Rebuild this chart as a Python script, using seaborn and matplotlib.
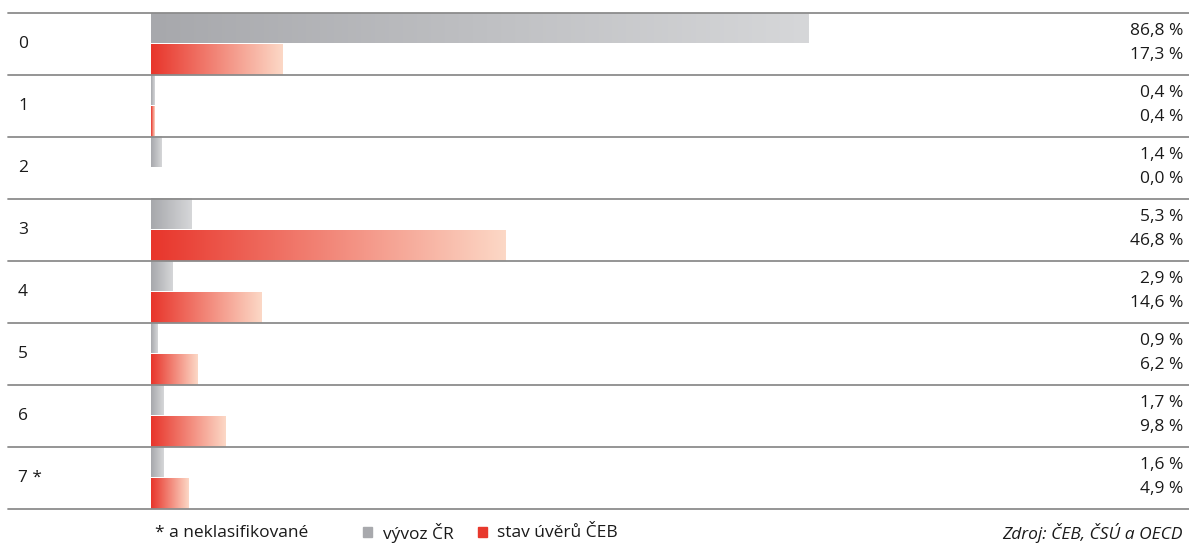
import numpy as np
import pandas as pd
import matplotlib
matplotlib.use("Agg")
import matplotlib.pyplot as plt
import seaborn as sns
from matplotlib.colors import LinearSegmentedColormap
from matplotlib.patches import Rectangle

categories = ["0", "1", "2", "3", "4", "5", "6", "7 *"]
vyvoz = [86.8, 0.4, 1.4, 5.3, 2.9, 0.9, 1.7, 1.6]
uvery = [17.3, 0.4, 0.0, 46.8, 14.6, 6.2, 9.8, 4.9]
series_names = ["vývoz ČR", "stav úvěrů ČEB"]

sns.set_theme(style="white")
plt.rcParams['font.family'] = ['Open Sans', 'DejaVu Sans']

df = pd.DataFrame({
    "cat": categories * 2,
    "val": vyvoz + uvery,
    "ser": [series_names[0]] * len(categories) + [series_names[1]] * len(categories),
})

W, H = 1189, 543
fig = plt.figure(figsize=(W / 100, H / 100), dpi=100)
x0, x1 = 151, 1189
ytop, ybot = 13, 509
ax = fig.add_axes([x0 / W, (H - ybot) / H, (x1 - x0) / W, (ybot - ytop) / H])

pal = {series_names[0]: "#a8a9ad", series_names[1]: "#e8392d"}
sns.barplot(data=df, y="cat", x="val", hue="ser", order=categories,
            hue_order=series_names, palette=pal, width=1.0, dodge=True,
            orient="h", ax=ax, legend=False, saturation=1, linewidth=0)

px_per_unit = 658 / 86.8
ax.set_xlim(0, (x1 - x0) / px_per_unit)
ax.set_ylim(len(categories) - 0.5, -0.5)

cmaps = {
    series_names[0]: LinearSegmentedColormap.from_list("g", ["#a7a8ac", "#d6d7d9"]),
    series_names[1]: LinearSegmentedColormap.from_list("r", ["#e8352b", "#fcd8c6"]),
}
grad = np.linspace(0, 1, 256).reshape(1, -1)
patches = list(ax.patches)
for i, p in enumerate(patches):
    ser = series_names[0] if i < len(categories) else series_names[1]
    x, y, w, h = p.get_x(), p.get_y(), p.get_width(), p.get_height()
    p.set_facecolor("none")
    if w <= 0:
        continue
    ys, ye = y, y + h
    if ser == series_names[0]:
        ye = y + h - 0.015
    ax.imshow(grad, aspect="auto", cmap=cmaps[ser],
              extent=(x, x + w, ye, ys), interpolation="bilinear", zorder=2)
ax.set_ylim(len(categories) - 0.5, -0.5)
ax.set_xlim(0, (x1 - x0) / px_per_unit)

ax.set_axis_off()

xmin_ax = (8 - x0) / (x1 - x0)
for k in range(len(categories) + 1):
    ax.axhline(k - 0.5, xmin=xmin_ax, xmax=1, color="#8c8c8c", lw=1.3,
               clip_on=False, zorder=3)

txt_color = "#1a1a1a"
fs = 12.5
for i, c in enumerate(categories):
    ax.text((18 - x0) / (x1 - x0), i, c, transform=ax.get_yaxis_transform(),
            ha="left", va="center", fontsize=fs, color=txt_color)
    a = f"{vyvoz[i]:.1f} %".replace(".", ",")
    b = f"{uvery[i]:.1f} %".replace(".", ",")
    xr = (1183 - x0) / (x1 - x0)
    ax.text(xr, i - 0.21, a, transform=ax.get_yaxis_transform(),
            ha="right", va="center", fontsize=fs, color=txt_color)
    ax.text(xr, i + 0.18, b, transform=ax.get_yaxis_transform(),
            ha="right", va="center", fontsize=fs, color=txt_color)

ly = 1 - 533 / H
fig.text(155 / W, ly, "* a neklasifikované", ha="left", va="center",
         fontsize=fs, color=txt_color)
fig.patches.append(Rectangle((363 / W, ly - 4 / H), 9 / W, 10 / H,
                             transform=fig.transFigure, color="#a8a9ad", figure=fig))
fig.text(383 / W, ly, series_names[0], ha="left", va="center", fontsize=fs, color=txt_color)
fig.patches.append(Rectangle((478 / W, ly - 4 / H), 9 / W, 10 / H,
                             transform=fig.transFigure, color="#e8392d", figure=fig))
fig.text(497 / W, ly, series_names[1], ha="left", va="center", fontsize=fs, color=txt_color)
fig.text(1183 / W, ly, "Zdroj: ČEB, ČSÚ a OECD", ha="right", va="center",
         fontsize=fs, color=txt_color, style="italic")

fig.savefig("out.png", dpi=100, facecolor="white")
